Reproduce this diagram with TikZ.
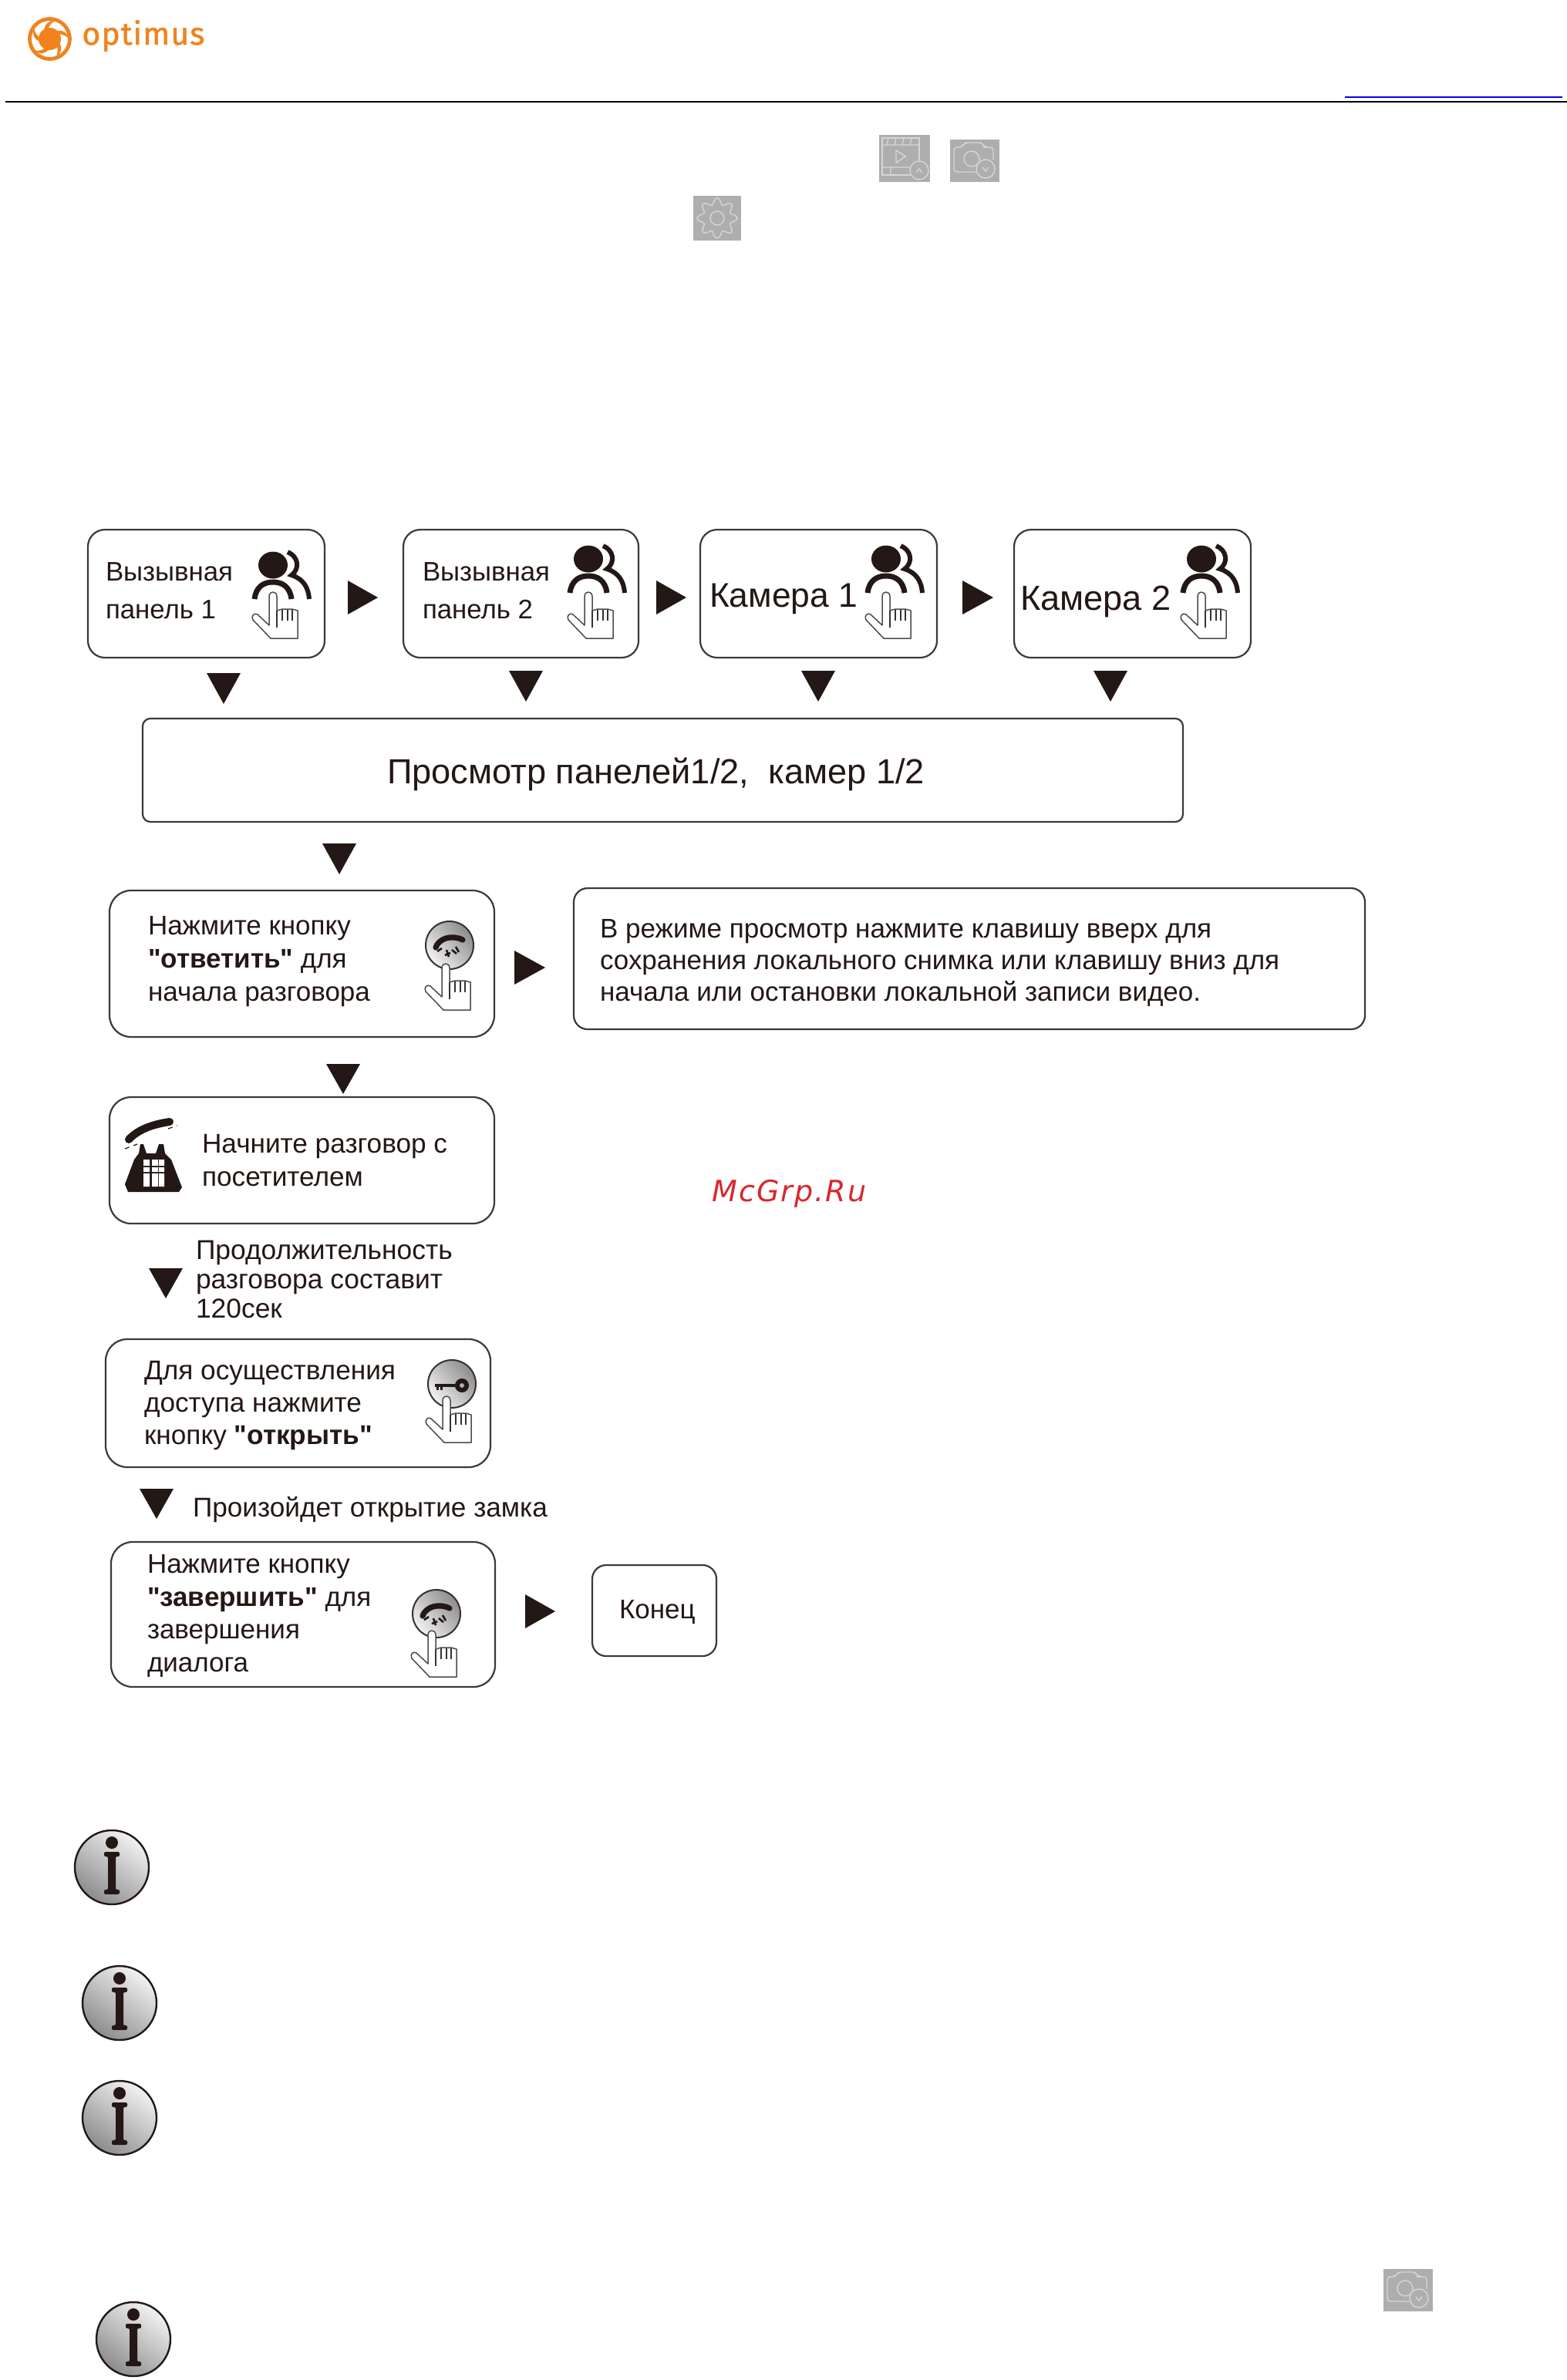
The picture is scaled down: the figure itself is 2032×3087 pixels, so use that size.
\documentclass[tikz,border=0pt]{standalone}
\usepackage{fontspec}
\setmainfont[Ligatures=TeXOff]{Liberation Sans}
\newfontfamily\logofont[LetterSpace=2.5,FakeBold=1.2]{Fira Sans}
\newfontfamily\wmfont[LetterSpace=5.5]{DejaVu Sans}
\definecolor{ink}{HTML}{231815}
\definecolor{boxline}{HTML}{3A3A3A}
\definecolor{logoor}{HTML}{F0831E}
\definecolor{iconbg}{HTML}{AEAEAE}
\definecolor{iconln}{HTML}{D6D6D6}
\definecolor{wm}{HTML}{D9272E}
\definecolor{linkblue}{HTML}{0000EE}
\newcommand{\bx}[6]{\node[boxst,rounded corners=#6pt,minimum width={(#4-#2)*0.5pt},minimum height={(#5-#3)*0.5pt}] (#1) at ({(#2+#4)/2},{(#3+#5)/2}) {};}
\newcommand{\trd}[3]{\fill[ink] (#1-22,#2) -- (#1+22,#2) -- (#1,#2+#3) -- cycle;}
\newcommand{\trr}[3]{\fill[ink] (#1,#2-22) -- (#1,#2+22) -- (#1+#3,#2) -- cycle;}
\newcommand{\tb}[6]{\node[txt,font=\fontsize{#5}{#6}\selectfont] (#1) at (#2,#3) {#4};}
\tikzset{
  boxst/.style={draw=boxline,line width=1.1pt,fill=white,inner sep=0pt,outer sep=0pt},
  txt/.style={anchor=base west,align=left,inner sep=0pt,outer sep=0pt,text=ink},
  handpic/.pic={
    \draw[draw=black!70,line width=0.75pt,fill=white,line join=round]
      (-5,6) .. controls (-5,1) and (-2,0) .. (0,0) .. controls (3,0) and (5,2) .. (5,6)
      -- (5,24) -- (12,22) -- (18,22) -- (25,22) -- (32,24) -- (32,60) -- (-3,60) -- (-26,36)
      .. controls (-29,31) and (-24,26) .. (-20,29) -- (-5,43) -- cycle;
    \draw[draw=black!80,line width=0.75pt] (5,24) -- (5,46) (12,23) -- (12,37) (19,23) -- (19,37) (25,23) -- (25,37);
  },
  peoplepic/.pic={
    \fill[ink] (0,0) circle[x radius=19,y radius=17.5];
    \draw[ink,line width=3.5pt] (-24,44) .. controls (-22,28) and (-12,22) .. (0,22) .. controls (12,22) and (22,28) .. (24,44);
    \draw[ink,line width=3pt] (19,-17) .. controls (32,-12) and (36,4) .. (24,13) .. controls (40,18) and (46,30) .. (47,44);
  },
  btnpic/.pic={
    \shade[top color=white!95!black,bottom color=black!45,shading angle=130] (0,0) circle[radius=31];
    \draw[ink!90,line width=1pt] (0,0) circle[radius=31];
  },
  callpic/.pic={
    \draw[ink,line width=3.6pt,line cap=round] (-18,3) .. controls (-14,-9) and (3,-14) .. (17,-7);
    \draw[ink,line width=1.3pt] (-16,8) -- (-10,4) (-4,6) -- (-1,15) (3,6) -- (9,11) (8,2) -- (12,9) (-6,13) -- (1,10);
  },
  keypic/.pic={
    \draw[ink,line width=2.4pt] (-22,2) -- (6,2);
    \draw[ink,line width=1.5pt] (-19,2) -- (-19,8) (-14,2) -- (-14,8);
    \draw[ink,line width=3pt] (13,2) circle[radius=6];
  },
  infopic/.pic={
    \shade[top color=white!95!black,bottom color=black!45,shading angle=-35] (0,0) circle[radius=48];
    \draw[ink,line width=1.2pt] (0,0) circle[radius=48];
    \fill[ink] (0,-32) circle[radius=8];
    \fill[ink,rounded corners=1pt] (-10,-20) -- (10,-20) -- (10,-14) -- (5,-14) -- (5,29) -- (10,29) -- (10,35) -- (-10,35) -- (-10,29) -- (-5,29) -- (-5,-14) -- (-10,-14) -- cycle;
  },
  iconline/.style={draw=iconln,line width=0.7pt},
  campic/.pic={
    \fill[iconbg] (0,0) rectangle (64,55);
    \draw[iconline,rounded corners=2pt] (40,42) -- (5,42) -- (5,10) -- (15,10) -- (19,4) -- (41,4) -- (45,10) -- (56,10) -- (56,26);
    \draw[iconline] (28,25) circle[radius=10];
    \draw[iconline] (43,10) -- (49,10);
    \fill[iconbg] (46,38) circle[radius=13];
    \draw[iconline] (46,38) circle[radius=12];
    \draw[iconline] (42,36) -- (46,41) -- (50,36);
  }
}
\begin{document}
\begin{tikzpicture}[x=0.5pt,y=-0.5pt]
\useasboundingbox (0,0) rectangle (2032,3087);
\fill[white] (0,0) rectangle (2032,3087);
% header
\draw[logoor,line width=2.4pt] (64.5,50.5) circle[radius=26];
\fill[logoor] (64.5,50.5) circle[radius=14.5];
\foreach \a in {20,92,164,236,308}{
  \fill[logoor] ({64.5+12*cos(\a)},{50.5+12*sin(\a)}) .. controls ({64.5+20*cos(\a+10)},{50.5+20*sin(\a+10)}) and ({64.5+24*cos(\a+30)},{50.5+24*sin(\a+30)}) .. ({64.5+27*cos(\a+55)},{50.5+27*sin(\a+55)}) .. controls ({64.5+22*cos(\a+40)},{50.5+22*sin(\a+40)}) and ({64.5+17*cos(\a+30)},{50.5+17*sin(\a+30)}) .. ({64.5+13*cos(\a+25)},{50.5+13*sin(\a+25)}) -- cycle;
}
\node[anchor=base west,inner sep=0pt,text=logoor,font=\logofont\fontsize{20.5}{23}\selectfont] (logo) at (106,58) {optimus};
\draw[black,line width=1.4pt] (7,132) -- (2032,132);
\draw[linkblue,line width=1pt] (1744,126) -- (2026,126);
% gray icons
\begin{scope}[shift={(1140,175)}]
  \fill[iconbg] (0,0) rectangle (66,61);
  \draw[iconline] (4,4) rectangle (52,52);
  \draw[iconline] (4,13) -- (52,13) (4,42) -- (46,42) (12,4) -- (10,13) (22,4) -- (20,13) (32,4) -- (30,13) (42,4) -- (40,13) (15,42) -- (15,52);
  \draw[iconline] (22,20) -- (22,36) -- (34,28) -- cycle;
  \fill[iconbg] (52,46) circle[radius=13];
  \draw[iconline] (52,46) circle[radius=12];
  \draw[iconline] (48,49) -- (52,44) -- (56,49);
\end{scope}
\pic at (1232,181) {campic};
\begin{scope}[shift={(899,254)}]
  \fill[iconbg] (0,0) rectangle (62,58);
  \draw[iconline,domain=0:360,samples=81,smooth] plot ({31+(22+4*cos(8*\x))*cos(\x)},{29+(22+4*cos(8*\x))*sin(\x)});
  \draw[iconline] (31,29) circle[radius=9];
\end{scope}
\pic at (1794,2943) {campic};
% row of sources
\bx{b1}{114}{687}{421}{853}{11}
\bx{b2}{523}{687}{828}{853}{11}
\bx{b3}{908}{687}{1215}{853}{11}
\bx{b4}{1315}{687}{1622}{853}{11}
\tb{t1}{137}{802}{Вызывная\\панель 1}{17.4}{24.5}
\tb{t2}{548}{802}{Вызывная\\панель 2}{17.4}{24.5}
\tb{t3}{920}{787}{Камера 1}{22.2}{26}
\tb{t4}{1323}{791}{Камера 2}{22.6}{26}
\pic at (354,733) {peoplepic};
\pic at (763,725) {peoplepic};
\pic at (1149,725) {peoplepic};
\pic at (1558,725) {peoplepic};
\pic at (354,768) {handpic};
\pic at (763,768) {handpic};
\pic at (1149,768) {handpic};
\pic at (1558,768) {handpic};
\trr{451}{775}{39}
\trr{851}{775}{39}
\trr{1248}{775}{40}
\trd{290}{873}{40}
\trd{682}{870}{40}
\trd{1061}{870}{40}
\trd{1440}{870}{40}
% overview
\bx{b5}{185}{932}{1534}{1066}{5}
\tb{t5}{502}{1016}{Просмотр панелей1/2,~ камер 1/2}{22.6}{26}
\trd{440}{1094}{40}
% answer
\bx{b6}{142}{1155}{641}{1345}{14}
\tb{t6}{192}{1298}{Нажмите кнопку\\\textbf{"ответить"} для\\начала разговора}{17.5}{21.3}
\pic at (583,1226) {btnpic};
\pic at (583,1226) {callpic};
\pic at (578,1250) {handpic};
\trr{667}{1255}{40}
\bx{b7}{744}{1152}{1770}{1335}{9}
\tb{t7}{778}{1298}{В режиме просмотр нажмите клавишу вверх для\\сохранения локального снимка или клавишу вниз для\\начала или остановки локальной записи видео.}{17.5}{20.5}
\node[anchor=base west,inner sep=0pt,text=wm,font=\wmfont\itshape\fontsize{19}{22}\selectfont] (wmk) at (923,1558) {McGrp.Ru};
\trd{445}{1380}{39}
% talk
\bx{b8}{142}{1423}{641}{1587}{14}
\tb{t8}{262}{1538}{Начните разговор с\\посетителем}{17.6}{21.5}
\begin{scope}[shift={(150,1440)}]
  \draw[ink,line width=5pt,line cap=round] (17,38) .. controls (30,24) and (50,18) .. (70,15);
  \draw[ink,line width=0.6pt,dashed] (12,50) -- (28,44) (68,24) -- (80,20);
  \fill[ink] (32,44) -- (36,44) -- (40,56) -- (52,56) -- (56,44) -- (62,44) -- (64,56) -- (72,64) -- (86,100) -- (82,106) -- (16,106) -- (12,96) -- (24,64) -- (30,56) -- cycle;
  \fill[white] (36,64) rectangle (44,72) (47,64) rectangle (55,72) (56,64) rectangle (63,72);
  \fill[white] (36,74) rectangle (44,80) (47,74) rectangle (55,80) (56,74) rectangle (63,80);
  \fill[white] (36,82) rectangle (44,99) (47,82) rectangle (55,99) (56,82) rectangle (63,99);
\end{scope}
\trd{215}{1645}{39}
\tb{t9}{254}{1709}{Продолжительность\\разговора составит\\120сек}{17.7}{19}
% access
\bx{b10}{137}{1737}{636}{1903}{14}
\tb{t10}{187}{1873}{Для осуществления\\доступа нажмите\\кнопку \textbf{"открыть"}}{17.6}{20.8}
\pic at (586,1795) {btnpic};
\pic at (586,1795) {keypic};
\pic at (579,1811) {handpic};
\trd{203}{1931}{39}
\tb{t11}{250}{1967}{Произойдет открытие замка}{17.6}{21}
% finish
\bx{b12}{144}{2000}{642}{2188}{14}
\tb{t12}{191}{2168}{Нажмите кнопку\\\textbf{"завершить"} для\\завершения\\диалога}{17.5}{21.2}
\pic at (566,2093) {btnpic};
\pic at (566,2093) {callpic};
\pic at (560,2115) {handpic};
\trr{681}{2090}{39}
\bx{b13}{768}{2030}{929}{2148}{9}
\tb{t13}{803}{2099}{Конец}{17.5}{21}
% notes
\pic at (145,2422) {infopic};
\pic at (155,2598) {infopic};
\pic at (155,2747) {infopic};
\pic at (173,3034) {infopic};
\end{tikzpicture}
\end{document}
